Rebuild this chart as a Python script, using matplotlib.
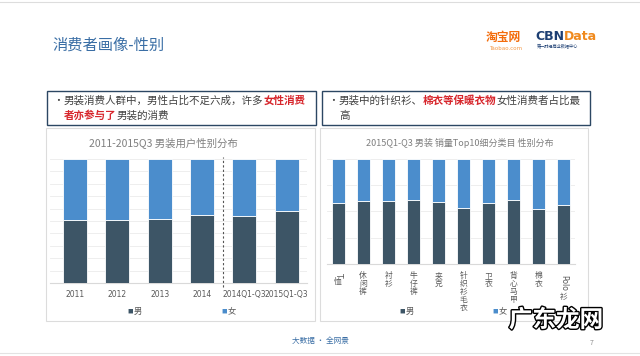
import matplotlib
matplotlib.use("Agg")
import matplotlib.pyplot as plt
from matplotlib.patches import Rectangle
import matplotlib.patheffects as pe

plt.rcParams['font.family'] = ['Noto Sans CJK SC', 'DejaVu Sans']

# ---------------- data ----------------
years = ["2011", "2012", "2013", "2014", "2014Q1-Q3", "2015Q1-Q3"]
male_year = [0.51, 0.51, 0.52, 0.55, 0.54, 0.58]
female_year = [1 - v for v in male_year]

cats = ["T恤", "休闲裤", "衬衫", "牛仔裤", "夹克", "针织衫毛衣", "卫衣", "背心马甲", "棉衣", "Polo衫"]
male_cat = [0.58, 0.60, 0.60, 0.605, 0.59, 0.53, 0.58, 0.61, 0.52, 0.56]
female_cat = [1 - v for v in male_cat]

series_names = ["男", "女"]
C_DARK = "#3d5566"
C_LIGHT = "#4b8dcc"

W, H = 640, 356
fig = plt.figure(figsize=(6.4, 3.56), dpi=100)
fig.patch.set_facecolor("white")
renderer = fig.canvas.get_renderer()

def fx(x): return x / W
def fy(y): return 1 - y / H

def add_rect(x0, y0, x1, y1, ec, lw=0.8, fc="none", z=0):
    r = Rectangle((fx(x0), fy(y1)), fx(x1) - fx(x0), fy(y0) - fy(y1),
                  transform=fig.transFigure, fc=fc, ec=ec, lw=lw, zorder=z)
    fig.patches.append(r)

def chain(x0, y, segs):
    """segs: list of (text, kwargs); place sequentially measuring widths."""
    x = x0
    for txt, kw in segs:
        t = fig.text(fx(x), fy(y), txt, va="center", ha="left", **kw)
        bb = t.get_window_extent(renderer=renderer)
        x += bb.width
    return x

# slide frame lines
fig.add_artist(plt.Line2D([0, 1], [fy(2), fy(2)], color="#dddddd", lw=0.8))
fig.add_artist(plt.Line2D([0, 1], [fy(353), fy(353)], color="#e3e3e3", lw=0.8))

# slide title
fig.text(fx(52), fy(45), "消费者画像-性别", fontsize=11, color="#3a6ea5", va="center", ha="left")

# logos
fig.text(fx(486), fy(38), "淘宝网", fontsize=8.5, color="#f36c0c", fontweight="bold", va="center", ha="left")
fig.text(fx(489), fy(48), "Taobao.com", fontsize=4, color="#f39a4a", va="center", ha="left", family="DejaVu Sans")
chain(535, 37, [("CBN", dict(fontsize=9, color="#1d3f73", fontweight="bold", family="DejaVu Sans")),
                ("Data", dict(fontsize=9, color="#f08a1e", fontweight="bold", family="DejaVu Sans"))])
fig.text(fx(537), fy(46), "第一财经商业数据中心", fontsize=3, color="#1d3f73", va="center", ha="left")

# top text boxes
add_rect(47, 91, 316, 125, "#2c4763", lw=1.0)
add_rect(322, 91, 590, 125, "#2c4763", lw=1.0)

norm = dict(fontsize=7.6, color="#404040")
red = dict(fontsize=7.6, color="#d7262c", fontweight="bold")

fig.text(fx(53), fy(101), "•", fontsize=7, color="#404040", va="center", ha="left")
chain(64, 101, [("男装消费人群中，男性占比不足六成，许多", norm), ("女性消费", red)])
chain(64, 116, [("者亦参与了", red), ("男装的消费", norm)])

fig.text(fx(328), fy(101), "•", fontsize=7, color="#404040", va="center", ha="left")
chain(339, 101, [("男装中的针织衫、", norm), ("棉衣等保暖衣物", red), ("女性消费者占比最", norm)])
chain(339, 116, [("高", norm)])

# chart panels
add_rect(46, 128, 315, 321, "#dcdcdc", lw=0.8)
add_rect(320, 128, 588, 321, "#dcdcdc", lw=0.8)

# ---------------- left chart ----------------
ax1 = fig.add_axes([fx(50), fy(283), fx(307) - fx(50), fy(159) - fy(283)])
x1 = list(range(len(years)))
ax1.bar(x1, male_year, width=0.57, color=C_DARK, edgecolor="white", linewidth=0.6, zorder=3)
ax1.bar(x1, female_year, bottom=male_year, width=0.57, color=C_LIGHT, edgecolor="white", linewidth=0.6, zorder=3)
ax1.set_xlim(-0.59, 5.48)
ax1.set_ylim(0, 1)
ax1.set_yticks([i / 10 for i in range(11)])
ax1.grid(axis="y", color="#ebebeb", lw=0.6, zorder=0)
ax1.tick_params(axis="y", left=False, labelleft=False)
ax1.set_xticks(x1)
ax1.set_xticklabels(years, fontsize=5.5, color="#595959", family="DejaVu Sans")
ax1.tick_params(axis="x", length=0, pad=5)
for s in ax1.spines.values():
    s.set_visible(False)
ax1.spines["bottom"].set_visible(True)
ax1.spines["bottom"].set_color("#d9d9d9")
ax1.axvline(3.5, ymin=-0.03, ymax=1.02, color="#555555", ls=(0, (2, 2)), lw=0.8, clip_on=False, zorder=4)
fig.text(fx(163), fy(143), "2011-2015Q3 男装用户性别分布", fontsize=7.5, color="#7f7f7f", ha="center", va="center")

# legend left
fig.text(fx(133), fy(311), "■", fontsize=4, color=C_DARK, ha="right", va="center")
fig.text(fx(134), fy(311), series_names[0], fontsize=6, color="#595959", ha="left", va="center")
fig.text(fx(227), fy(311), "■", fontsize=4, color=C_LIGHT, ha="right", va="center")
fig.text(fx(228), fy(311), series_names[1], fontsize=6, color="#595959", ha="left", va="center")

# ---------------- right chart ----------------
ax2 = fig.add_axes([fx(327), fy(264), fx(575) - fx(327), fy(159) - fy(264)])
x2 = list(range(len(cats)))
ax2.bar(x2, male_cat, width=0.52, color=C_DARK, edgecolor="white", linewidth=0.6, zorder=3)
ax2.bar(x2, female_cat, bottom=male_cat, width=0.52, color=C_LIGHT, edgecolor="white", linewidth=0.6, zorder=3)
ax2.set_xlim(-0.44, 9.44)
ax2.set_ylim(0, 1)
ax2.set_yticks([0, 0.25, 0.5, 0.75, 1.0])
ax2.grid(axis="y", color="#ebebeb", lw=0.6, zorder=0)
ax2.tick_params(axis="y", left=False, labelleft=False)
ax2.set_xticks(x2)
ax2.set_xticklabels([])
ax2.tick_params(axis="x", length=0)
for s in ax2.spines.values():
    s.set_visible(False)
ax2.spines["bottom"].set_visible(True)
ax2.spines["bottom"].set_color("#d9d9d9")

# vertical stacked labels
fs = 5.6
for i, lab in enumerate(cats):
    tokens = []
    buf = ""
    for ch in lab:
        if ch.isascii():
            buf += ch
        else:
            if buf:
                tokens.append(buf); buf = ""
            tokens.append(ch)
    if buf:
        tokens.append(buf)
    off = -6
    for tok in tokens:
        if tok.isascii():
            length = len(tok) * fs * 0.62 + 1
            ax2.annotate(tok, xy=(i, 0), xycoords=("data", "axes fraction"),
                         xytext=(0, off - length / 2), textcoords="offset points",
                         rotation=270, ha="center", va="center", fontsize=fs,
                         color="#595959", family="DejaVu Sans", annotation_clip=False)
            off -= length
        else:
            ax2.annotate(tok, xy=(i, 0), xycoords=("data", "axes fraction"),
                         xytext=(0, off - fs * 0.5), textcoords="offset points",
                         ha="center", va="center", fontsize=fs, color="#595959",
                         annotation_clip=False)
            off -= fs * 1.03

fig.text(fx(460), fy(143), "2015Q1-Q3 男装 销量Top10细分类目 性别分布", fontsize=6.5, color="#7f7f7f", ha="center", va="center")

fig.text(fx(405), fy(311), "■", fontsize=4, color=C_DARK, ha="right", va="center")
fig.text(fx(406), fy(311), series_names[0], fontsize=6, color="#595959", ha="left", va="center")
fig.text(fx(498), fy(311), "■", fontsize=4, color=C_LIGHT, ha="right", va="center")
fig.text(fx(499), fy(311), series_names[1], fontsize=6, color="#595959", ha="left", va="center")

# footer
fig.text(fx(320), fy(341), "大数据 · 全网景", fontsize=5.5, color="#3a6ea5", ha="center", va="center")
fig.text(fx(592), fy(343), "7", fontsize=5, color="#8c8c8c", ha="center", va="center")

# watermark
wm = fig.text(fx(556), fy(320), "广东龙网", fontsize=17, color="white", ha="center", va="center",
              fontweight="bold", zorder=10)
wm.set_path_effects([pe.Stroke(linewidth=2.0, foreground="black"), pe.Normal()])

fig.savefig("out.png", dpi=100, facecolor="white")
